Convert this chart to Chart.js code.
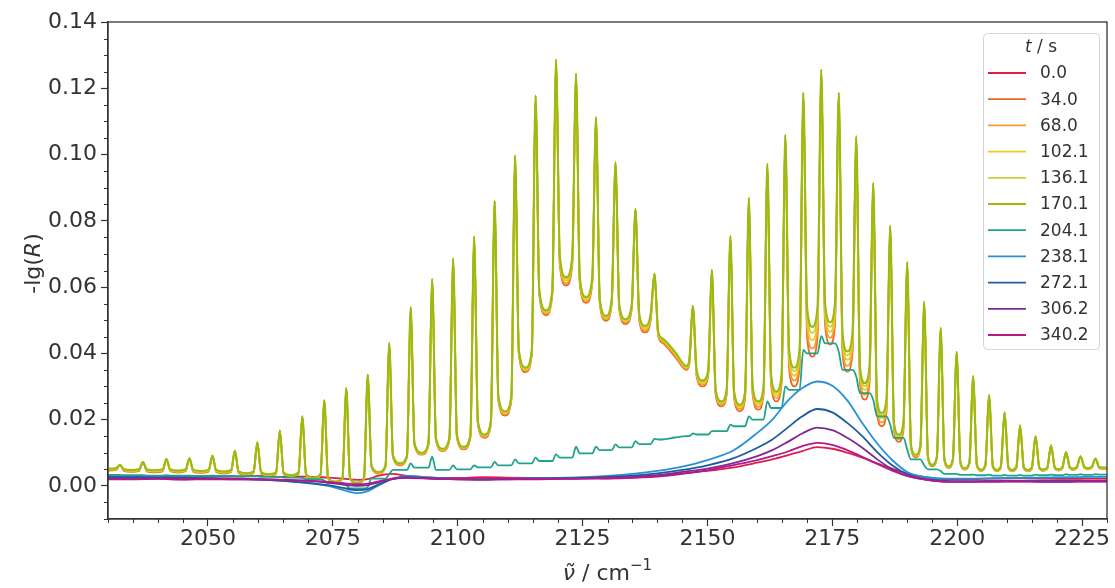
<!DOCTYPE html>
<html>
<head>
<meta charset="utf-8">
<script src="https://cdn.jsdelivr.net/npm/chart.js@4.4.0/dist/chart.umd.min.js"></script>
<style>
html, body { margin: 0; padding: 0; background: #fff; }
#wrap { width: 1115px; height: 588px; }
</style>
</head>
<body>
<div id="wrap"><canvas id="chart" width="1115" height="588"></canvas></div>
<script>
// rotational line positions (cm-1), P branch then R branch
const lineCenters = [
  2032.4, 2037.0, 2041.7, 2046.3, 2050.9, 2055.4, 2059.9, 2064.4, 2068.9, 2073.3,
  2077.7, 2082.0, 2086.3, 2090.6, 2094.9, 2099.1, 2103.3, 2107.4, 2111.5, 2115.6,
  2119.7, 2123.7, 2127.7, 2131.6, 2135.6, 2139.4,
  2147.1, 2150.9, 2154.6, 2158.3, 2162.0, 2165.6, 2169.2, 2172.8, 2176.3, 2179.8,
  2183.2, 2186.6, 2190.0, 2193.4, 2196.7, 2199.9, 2203.2, 2206.4, 2209.5, 2212.6,
  2215.7, 2218.8, 2221.8, 2224.7, 2227.7
];

// trough positions between the lines (plus the ends and the band-centre gap)
const troughX = [
  2030.0,
  2034.7, 2039.3, 2044.0, 2048.6, 2053.2, 2057.7, 2062.2, 2066.7, 2071.1, 2075.5,
  2079.9, 2084.2, 2088.5, 2092.8, 2097.0, 2101.2, 2105.4, 2109.5, 2113.6, 2117.7,
  2121.7, 2125.7, 2129.7, 2133.6, 2137.5,
  2141.0, 2143.5, 2145.8,
  2149.0, 2152.8, 2156.5, 2160.2, 2163.8, 2167.4, 2171.0, 2174.6, 2178.0, 2181.5,
  2184.9, 2188.3, 2191.7, 2195.0, 2198.3, 2201.5, 2204.8, 2208.0, 2211.0, 2214.2,
  2217.2, 2220.3, 2223.2, 2226.2,
  2230.0
];

// how far the line wings lift the trough flanks next to each line
const wingLift = [
  0.0002,
  0.0003, 0.0003, 0.0004, 0.0004, 0.0005, 0.0006, 0.0007, 0.0009, 0.0011, 0.0013,
  0.0015, 0.0019, 0.0024, 0.0029, 0.0033, 0.0036, 0.0040, 0.0046, 0.0054, 0.0061,
  0.0063, 0.0059, 0.0052, 0.0045, 0.0037,
  0.0020, 0.0000, 0.0015,
  0.0030, 0.0035, 0.0040, 0.0046, 0.0051, 0.0056, 0.0061, 0.0061, 0.0056, 0.0049,
  0.0042, 0.0036, 0.0030, 0.0026, 0.0022, 0.0018, 0.0015, 0.0012, 0.0010, 0.0008,
  0.0007, 0.0006, 0.0005, 0.0004,
  0.0002
];

// peak heights of the gas-phase lines (same for the 34.0 ... 170.1 s spectra)
const peakHeights = [
  0.0063, 0.0072, 0.0081, 0.0083, 0.0091, 0.0106, 0.0131, 0.0167, 0.0210, 0.0258,
  0.0295, 0.0336, 0.0431, 0.0539, 0.0624, 0.0686, 0.0752, 0.0860, 0.0997, 0.1178,
  0.1286, 0.1244, 0.1112, 0.0976, 0.0835, 0.0640,
  0.0543, 0.0651, 0.0754, 0.0869, 0.0972, 0.1059, 0.1186, 0.1256, 0.1186, 0.1055,
  0.0914, 0.0785, 0.0675, 0.0555, 0.0476, 0.0404, 0.0331, 0.0273, 0.0222, 0.0182,
  0.0149, 0.0122, 0.0101, 0.0089, 0.0082
];

const troughs34 = [
  0.0046,
  0.0042, 0.0041, 0.0040, 0.0039, 0.0037, 0.0033, 0.0030, 0.0027, 0.0020, 0.0009,
  0.0006, 0.0037, 0.0062, 0.0094, 0.0105, 0.0110, 0.0145, 0.0212, 0.0343, 0.0515,
  0.0605, 0.0552, 0.0498, 0.0488, 0.0463,
  0.0432, 0.0390, 0.0350,
  0.0300, 0.0240, 0.0225, 0.0230, 0.0255, 0.0300, 0.0390, 0.0427, 0.0345, 0.0260,
  0.0180, 0.0133, 0.0086, 0.0059, 0.0054, 0.0049, 0.0045, 0.0044, 0.0044, 0.0044,
  0.0045, 0.0046, 0.0048, 0.0050,
  0.0051
];
const troughs68 = [
  0.0048,
  0.0044, 0.0043, 0.0042, 0.0041, 0.0039, 0.0035, 0.0032, 0.0029, 0.0022, 0.0010,
  0.0007, 0.0039, 0.0064, 0.0096, 0.0107, 0.0112, 0.0148, 0.0216, 0.0347, 0.0520,
  0.0612, 0.0557, 0.0503, 0.0493, 0.0469,
  0.0436, 0.0395, 0.0354,
  0.0305, 0.0245, 0.0232, 0.0238, 0.0265, 0.0318, 0.0415, 0.0447, 0.0362, 0.0275,
  0.0192, 0.0140, 0.0089, 0.0061, 0.0056, 0.0050, 0.0046, 0.0045, 0.0045, 0.0045,
  0.0046, 0.0047, 0.0049, 0.0051,
  0.0052
];
const troughs102 = [
  0.0049,
  0.0045, 0.0044, 0.0043, 0.0042, 0.0040, 0.0036, 0.0033, 0.0030, 0.0023, 0.0011,
  0.0008, 0.0040, 0.0066, 0.0097, 0.0109, 0.0115, 0.0151, 0.0220, 0.0351, 0.0524,
  0.0620, 0.0563, 0.0507, 0.0497, 0.0475,
  0.0440, 0.0399, 0.0357,
  0.0310, 0.0250, 0.0238, 0.0245, 0.0273, 0.0333, 0.0440, 0.0465, 0.0380, 0.0290,
  0.0204, 0.0147, 0.0091, 0.0062, 0.0057, 0.0051, 0.0047, 0.0046, 0.0046, 0.0046,
  0.0047, 0.0048, 0.0050, 0.0052,
  0.0053
];
const troughs136 = [
  0.0051,
  0.0047, 0.0046, 0.0045, 0.0044, 0.0042, 0.0037, 0.0034, 0.0031, 0.0024, 0.0012,
  0.0009, 0.0041, 0.0067, 0.0099, 0.0111, 0.0117, 0.0153, 0.0223, 0.0354, 0.0527,
  0.0626, 0.0567, 0.0510, 0.0500, 0.0479,
  0.0443, 0.0402, 0.0360,
  0.0314, 0.0253, 0.0242, 0.0251, 0.0280, 0.0346, 0.0462, 0.0480, 0.0394, 0.0301,
  0.0213, 0.0151, 0.0093, 0.0063, 0.0058, 0.0052, 0.0048, 0.0047, 0.0047, 0.0047,
  0.0048, 0.0049, 0.0051, 0.0053,
  0.0054
];
const troughs170 = [
  0.0052,
  0.0048, 0.0047, 0.0046, 0.0045, 0.0043, 0.0038, 0.0035, 0.0032, 0.0025, 0.0013,
  0.0010, 0.0042, 0.0068, 0.0100, 0.0112, 0.0118, 0.0155, 0.0225, 0.0357, 0.0530,
  0.0630, 0.0570, 0.0513, 0.0503, 0.0483,
  0.0445, 0.0405, 0.0362,
  0.0318, 0.0255, 0.0245, 0.0255, 0.0285, 0.0357, 0.0480, 0.0494, 0.0406, 0.0310,
  0.0220, 0.0155, 0.0094, 0.0064, 0.0059, 0.0053, 0.0049, 0.0048, 0.0048, 0.0048,
  0.0049, 0.0050, 0.0052, 0.0054,
  0.0055
];

// 204.1 s: weak lines on a rising adsorbate band
const peaks204 = [
  0.0033, 0.0032, 0.0032, 0.0031, 0.0031, 0.0030, 0.0029, 0.0027, 0.0024, 0.0016,
  0.0002, -0.0004, 0.0035, 0.0068, 0.0088, 0.0062, 0.0062, 0.0072, 0.0080, 0.0085,
  0.0095, 0.0118, 0.0118, 0.0125, 0.0135, 0.0142,
  0.0158, 0.0165, 0.0185, 0.0210, 0.0255, 0.0300, 0.0410, 0.0452, 0.0405, 0.0330,
  0.0260, 0.0185, 0.0110, 0.0062, 0.0045, 0.0036, 0.0034, 0.0034, 0.0033, 0.0033,
  0.0034, 0.0034, 0.0035, 0.0035, 0.0035
];
const troughs204 = [
  0.0033,
  0.0032, 0.0031, 0.0031, 0.0030, 0.0030, 0.0029, 0.0027, 0.0025, 0.0020, 0.0008,
  -0.0008, 0.0022, 0.0048, 0.0055, 0.0048, 0.0050, 0.0056, 0.0062, 0.0068, 0.0075,
  0.0085, 0.0098, 0.0108, 0.0116, 0.0126,
  0.0140, 0.0146, 0.0150,
  0.0155, 0.0165, 0.0180, 0.0200, 0.0235, 0.0290, 0.0400, 0.0430, 0.0350, 0.0280,
  0.0210, 0.0145, 0.0080, 0.0050, 0.0036, 0.0033, 0.0032, 0.0031, 0.0031, 0.0031,
  0.0032, 0.0032, 0.0033, 0.0033,
  0.0034
];

// smooth spectra (0.0 s and the late times)
const lowX = [
  2030, 2035, 2040, 2045, 2050, 2055, 2060, 2065, 2070, 2074, 2077, 2080, 2082, 2084,
  2087, 2090, 2095, 2100, 2105, 2110, 2115, 2120, 2125, 2130, 2135, 2140, 2145, 2150,
  2155, 2160, 2163, 2166, 2169, 2172, 2175, 2178, 2181, 2184, 2187, 2190, 2194, 2198,
  2202, 2207, 2212, 2217, 2222, 2226, 2230
];
const low0 = [
  0.0030, 0.0028, 0.0030, 0.0027, 0.0029, 0.0028, 0.0030, 0.0027, 0.0028, 0.0025, 0.0022, 0.0018, 0.0020, 0.0030,
  0.0036, 0.0030, 0.0025, 0.0024, 0.0026, 0.0025, 0.0024, 0.0023, 0.0025, 0.0022, 0.0024, 0.0030, 0.0038, 0.0045,
  0.0055, 0.0070, 0.0080, 0.0092, 0.0105, 0.0117, 0.0112, 0.0100, 0.0085, 0.0068, 0.0052, 0.0038, 0.0025, 0.0020,
  0.0020, 0.0022, 0.0023, 0.0022, 0.0021, 0.0022, 0.0022
];
const low238 = [
  0.0028, 0.0027, 0.0026, 0.0025, 0.0024, 0.0022, 0.0020, 0.0015, 0.0008, 0.0000, -0.0012, -0.0022, -0.0016, 0.0000,
  0.0022, 0.0030, 0.0025, 0.0022, 0.0020, 0.0022, 0.0023, 0.0024, 0.0026, 0.0030, 0.0036, 0.0045, 0.0058, 0.0078,
  0.0105, 0.0160, 0.0200, 0.0255, 0.0295, 0.0315, 0.0302, 0.0258, 0.0190, 0.0128, 0.0078, 0.0042, 0.0026, 0.0022,
  0.0022, 0.0023, 0.0024, 0.0025, 0.0026, 0.0027, 0.0027
];
const low272 = [
  0.0026, 0.0026, 0.0025, 0.0024, 0.0023, 0.0021, 0.0019, 0.0015, 0.0009, 0.0002, -0.0006, -0.0013, -0.0010, 0.0003,
  0.0020, 0.0026, 0.0023, 0.0021, 0.0020, 0.0021, 0.0022, 0.0023, 0.0024, 0.0027, 0.0031, 0.0038, 0.0048, 0.0062,
  0.0082, 0.0115, 0.0140, 0.0175, 0.0210, 0.0232, 0.0222, 0.0190, 0.0150, 0.0102, 0.0062, 0.0035, 0.0020, 0.0015,
  0.0014, 0.0015, 0.0015, 0.0016, 0.0016, 0.0016, 0.0016
];
const low306 = [
  0.0022, 0.0021, 0.0022, 0.0020, 0.0021, 0.0020, 0.0020, 0.0018, 0.0015, 0.0010, 0.0004, 0.0000, 0.0002, 0.0010,
  0.0022, 0.0025, 0.0022, 0.0020, 0.0019, 0.0020, 0.0021, 0.0021, 0.0022, 0.0024, 0.0027, 0.0032, 0.0042, 0.0052,
  0.0068, 0.0090, 0.0108, 0.0132, 0.0158, 0.0176, 0.0168, 0.0145, 0.0115, 0.0080, 0.0050, 0.0030, 0.0018, 0.0012,
  0.0012, 0.0012, 0.0013, 0.0012, 0.0012, 0.0013, 0.0013
];
const low340 = [
  0.0020, 0.0020, 0.0021, 0.0019, 0.0020, 0.0020, 0.0019, 0.0018, 0.0016, 0.0012, 0.0008, 0.0005, 0.0007, 0.0013,
  0.0022, 0.0024, 0.0021, 0.0020, 0.0019, 0.0020, 0.0020, 0.0021, 0.0022, 0.0023, 0.0025, 0.0028, 0.0036, 0.0047,
  0.0062, 0.0078, 0.0090, 0.0103, 0.0120, 0.0130, 0.0124, 0.0108, 0.0088, 0.0066, 0.0046, 0.0030, 0.0018, 0.0013,
  0.0013, 0.0014, 0.0014, 0.0013, 0.0013, 0.0014, 0.0014
];

const timeLabels = ['0.0', '34.0', '68.0', '102.1', '136.1', '170.1', '204.1', '238.1', '272.1', '306.2', '340.2'];
const seriesColors = ['#dd1f4c', '#e8692a', '#f19f2c', '#f3c620', '#c6d13c', '#9cbb12',
                      '#1fa48a', '#2990d6', '#1f5b9c', '#7f2a92', '#b3188f'];
const xTicks = [2050, 2075, 2100, 2125, 2150, 2175, 2200, 2225];
const yTicks = [0.00, 0.02, 0.04, 0.06, 0.08, 0.10, 0.12, 0.14];

const lineHalfWidth = 0.75;
const FONT = 'DejaVu Sans';
const INK = '#333333';

// spectrum with sharp lines: trough minima + peak with narrow feet on the wings
function lineSpectrum(peaks, troughs, lift) {
  const pts = troughX.map((x, i) => ({ x: x, y: troughs[i] }));
  const up = i => (lift ? lift[i] : 0);
  lineCenters.forEach((c, i) => {
    let l = 0;
    while (troughX[l + 1] < c) l++;
    pts.push({ x: c - lineHalfWidth, y: troughs[l] + up(l) },
             { x: c, y: peaks[i] },
             { x: c + lineHalfWidth, y: troughs[l + 1] + up(l + 1) });
  });
  return pts.sort((a, b) => a.x - b.x);
}

function smoothSpectrum(values) {
  return lowX.map((x, i) => ({ x: x, y: values[i] }));
}

const seriesData = [
  smoothSpectrum(low0),
  lineSpectrum(peakHeights, troughs34, wingLift),
  lineSpectrum(peakHeights, troughs68, wingLift),
  lineSpectrum(peakHeights, troughs102, wingLift),
  lineSpectrum(peakHeights, troughs136, wingLift),
  lineSpectrum(peakHeights, troughs170, wingLift),
  lineSpectrum(peaks204, troughs204, null),
  smoothSpectrum(low238),
  smoothSpectrum(low272),
  smoothSpectrum(low306),
  smoothSpectrum(low340)
];

function drawParts(ctx, parts, cx, cy) {
  let total = 0;
  parts.forEach(p => {
    ctx.font = (p.italic ? 'italic ' : '') + p.size + 'px "' + FONT + '"';
    p.w = ctx.measureText(p.t).width;
    total += p.w;
  });
  let x = cx - total / 2;
  parts.forEach(p => {
    ctx.font = (p.italic ? 'italic ' : '') + p.size + 'px "' + FONT + '"';
    ctx.fillText(p.t, x, cy + (p.dy || 0));
    x += p.w;
  });
}

const decorations = {
  id: 'decorations',
  afterDraw(chart) {
    const { ctx, chartArea: a, scales: { x, y } } = chart;
    ctx.save();
    ctx.strokeStyle = INK;
    ctx.lineWidth = 1;
    ctx.beginPath();
    for (let v = 2030; v <= 2230; v += 5) {
      if (v % 25 === 0) continue;
      const px = Math.round(x.getPixelForValue(v)) + 0.5;
      ctx.moveTo(px, a.bottom);
      ctx.lineTo(px, a.bottom + 4);
    }
    for (let k = -2; k <= 28; k++) {
      if (k % 4 === 0) continue;
      const py = Math.round(y.getPixelForValue(k * 0.005)) + 0.5;
      ctx.moveTo(a.left, py);
      ctx.lineTo(a.left - 4, py);
    }
    ctx.stroke();

    // frame
    ctx.lineWidth = 1.3;
    ctx.strokeRect(a.left, a.top, a.right - a.left, a.bottom - a.top);

    // axis titles
    ctx.fillStyle = INK;
    ctx.textBaseline = 'middle';
    ctx.textAlign = 'left';
    ctx.save();
    ctx.translate(34, (a.top + a.bottom) / 2 - 7);
    ctx.rotate(-Math.PI / 2);
    drawParts(ctx, [
      { t: '-lg(', size: 22 }, { t: 'R', size: 22, italic: true }, { t: ')', size: 22 }
    ], 0, 0);
    ctx.restore();
    drawParts(ctx, [
      { t: 'ν\u0303', size: 22, italic: true }, { t: ' / cm', size: 22 },
      { t: '\u22121', size: 15, dy: -8 }
    ], (a.left + a.right) / 2, 574);

    // legend
    const lx = 983, ly = 33, lw = 116, lh = 316;
    ctx.beginPath();
    ctx.roundRect(lx + 0.5, ly + 0.5, lw, lh, 4);
    ctx.fillStyle = 'rgba(255,255,255,0.85)';
    ctx.fill();
    ctx.strokeStyle = '#d4d4d4';
    ctx.lineWidth = 1;
    ctx.stroke();
    ctx.fillStyle = INK;
    drawParts(ctx, [
      { t: 't', size: 17, italic: true }, { t: ' / s', size: 17 }
    ], lx + lw / 2, 48);
    ctx.font = '17px "' + FONT + '"';
    chart.data.datasets.forEach((ds, i) => {
      const ry = 73 + i * 26.2;
      ctx.strokeStyle = ds.borderColor;
      ctx.lineWidth = 1.8;
      ctx.beginPath();
      ctx.moveTo(988, ry);
      ctx.lineTo(1026, ry);
      ctx.stroke();
      ctx.fillStyle = INK;
      ctx.fillText(ds.label, 1040, ry + 1);
    });
    ctx.restore();
  }
};

new Chart(document.getElementById('chart'), {
  type: 'line',
  data: {
    datasets: seriesData.map((pts, i) => ({
      label: timeLabels[i],
      data: pts,
      borderColor: seriesColors[i],
      backgroundColor: seriesColors[i],
      borderWidth: i === 5 ? 2.1 : 1.8,
      order: seriesData.length - i,
      fill: false
    }))
  },
  options: {
    responsive: false,
    animation: false,
    devicePixelRatio: 1,
    layout: { padding: { left: 0, right: 8, top: 22, bottom: 0 } },
    elements: {
      point: { radius: 0 },
      line: { cubicInterpolationMode: 'monotone' }
    },
    plugins: { legend: { display: false }, tooltip: { enabled: false } },
    scales: {
      x: {
        type: 'linear', min: 2030, max: 2230,
        afterBuildTicks: s => { s.ticks = xTicks.map(v => ({ value: v })); },
        afterFit: s => { s.height = 69; },
        grid: { drawOnChartArea: false, tickLength: 7, tickColor: INK, tickWidth: 1.2 },
        border: { color: INK, width: 1.3 },
        ticks: { font: { family: FONT, size: 22 }, color: INK, padding: 0, maxRotation: 0, autoSkip: false,
                 callback: v => String(v) }
      },
      y: {
        type: 'linear', min: -0.01, max: 0.14,
        afterBuildTicks: s => { s.ticks = yTicks.map(v => ({ value: v })); },
        afterFit: s => { s.width = 108; },
        grid: { drawOnChartArea: false, tickLength: 7, tickColor: INK, tickWidth: 1.2 },
        border: { color: INK, width: 1.3 },
        ticks: { font: { family: FONT, size: 22 }, color: INK, padding: 4,
                 callback: v => v.toFixed(2) }
      }
    }
  },
  plugins: [decorations]
});
</script>
</body>
</html>
